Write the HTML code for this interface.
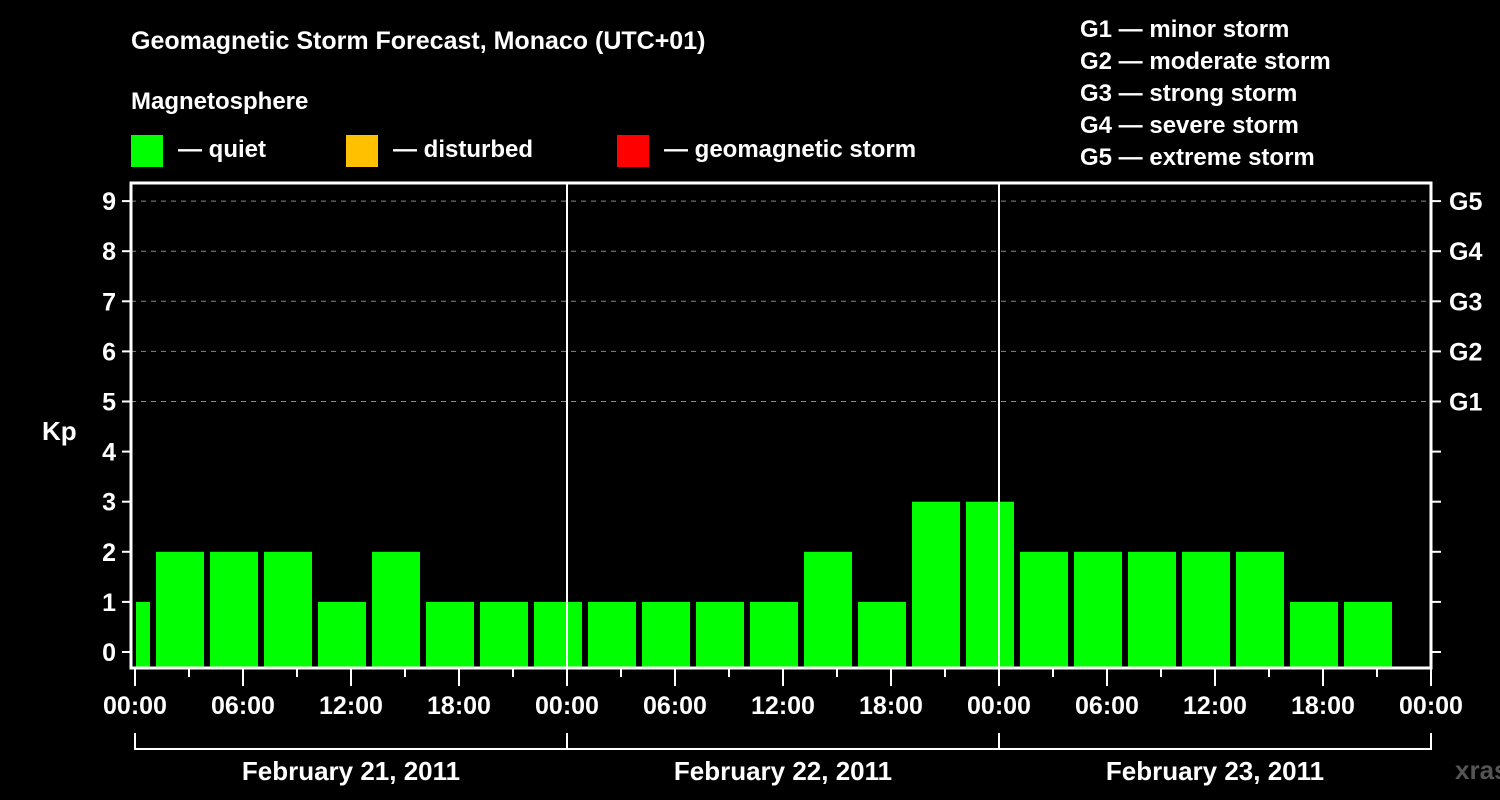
<!DOCTYPE html>
<html><head><meta charset="utf-8"><style>
body{margin:0;background:#000;}
svg{display:block;font-family:"Liberation Sans",Arial,sans-serif;font-weight:bold;}
</style></head><body>
<svg width="1500" height="800" viewBox="0 0 1500 800">
<rect width="1500" height="800" fill="#000"/>
<text x="131" y="49" fill="#fff" font-size="25">Geomagnetic Storm Forecast, Monaco (UTC+01)</text>
<text x="131" y="109" fill="#fff" font-size="24">Magnetosphere</text>
<g><rect x="131" y="135" width="32" height="32" fill="#00ff00"/><text x="178" y="157" fill="#fff" font-size="24">— quiet</text></g>
<g><rect x="346" y="135" width="32" height="32" fill="#ffc000"/><text x="393" y="157" fill="#fff" font-size="24">— disturbed</text></g>
<g><rect x="617" y="135" width="32" height="32" fill="#ff0000"/><text x="664" y="157" fill="#fff" font-size="24">— geomagnetic storm</text></g>
<g fill="#fff" font-size="24">
<text x="1080" y="37">G1 — minor storm</text>
<text x="1080" y="69">G2 — moderate storm</text>
<text x="1080" y="101">G3 — strong storm</text>
<text x="1080" y="133">G4 — severe storm</text>
<text x="1080" y="165">G5 — extreme storm</text>
</g>
<text x="42" y="440" fill="#fff" font-size="26">Kp</text>
<text x="1455" y="779" fill="#555" font-size="26">xras.ru</text>
<g id="plot"></g>
</svg>
<script>
const kpValues=[1,2,2,2,1,2,1,1,1,1,1,1,1,2,1,3,3,2,2,2,2,2,1,1];
const dayLabels=["February 21, 2011","February 22, 2011","February 23, 2011"];
const yTicks=[0,1,2,3,4,5,6,7,8,9];
const gLabels=["G1","G2","G3","G4","G5"];
const NS="http://www.w3.org/2000/svg";
const g=document.getElementById('plot');
const X0=135,PXH=18,L=131,R=1431,T=183,B=668;
const xs=h=>X0+h*PXH;
const ys=v=>652-v*50.1;
function mk(t,a,p){const e=document.createElementNS(NS,t);for(const k in a)e.setAttribute(k,a[k]);(p||g).appendChild(e);return e;}
// gridlines
for(let v=5;v<=9;v++){const l=mk('line',{x1:L,x2:R,y1:ys(v),y2:ys(v),stroke:'#888','stroke-width':1,'stroke-dasharray':'5,5'});

}
// bars
kpValues.forEach((v,i)=>{let s=-2+3*i,e=s+3;let x1=Math.max(xs(s),X0),x2=xs(e);
let bx=i===0?x1+1:x1+3,bw=(x2-3)-bx;
const r=mk('rect',{x:bx,y:ys(v),width:bw,height:B-ys(v),fill:v>=5?'#ff0000':(v>=4?'#ffc000':'#00ff00')});

});
// day separators
[24,48].forEach(h=>{const l=mk('line',{x1:xs(h),x2:xs(h),y1:T,y2:B,stroke:'#fff','stroke-width':2});

});
// frame
const fr=mk('rect',{x:L,y:T,width:R-L,height:B-T,fill:'none',stroke:'#fff','stroke-width':3});


// y ticks
yTicks.forEach(v=>{mk('line',{x1:122,x2:L,y1:ys(v),y2:ys(v),stroke:'#fff','stroke-width':2});
mk('line',{x1:R,x2:R+10,y1:ys(v),y2:ys(v),stroke:'#fff','stroke-width':2});
const t=mk('text',{x:116,y:ys(v)+9,fill:'#fff','font-size':25,'text-anchor':'end'});t.textContent=v;

});
gLabels.forEach((s,i)=>{const t=mk('text',{x:1449,y:ys(5+i)+9,fill:'#fff','font-size':25});t.textContent=s;

});
// x ticks
for(let h=0;h<=72;h+=3){const major=h%6===0;mk('line',{x1:xs(h),x2:xs(h),y1:B,y2:major?686:677,stroke:'#fff','stroke-width':2});
if(major){const t=mk('text',{x:xs(h),y:714,fill:'#fff','font-size':25,'text-anchor':'middle'});t.textContent=String(h%24).padStart(2,'0')+':00';

}}
// day bracket
mk('line',{x1:xs(0),x2:xs(72),y1:749,y2:749,stroke:'#fff','stroke-width':2});
[0,24,48,72].forEach(h=>mk('line',{x1:xs(h),x2:xs(h),y1:733,y2:750,stroke:'#fff','stroke-width':2}));
dayLabels.forEach((d,i)=>{const t=mk('text',{x:xs(24*i+12),y:780,fill:'#fff','font-size':26,'text-anchor':'middle'});t.textContent=d;

});
</script>
</body></html>
